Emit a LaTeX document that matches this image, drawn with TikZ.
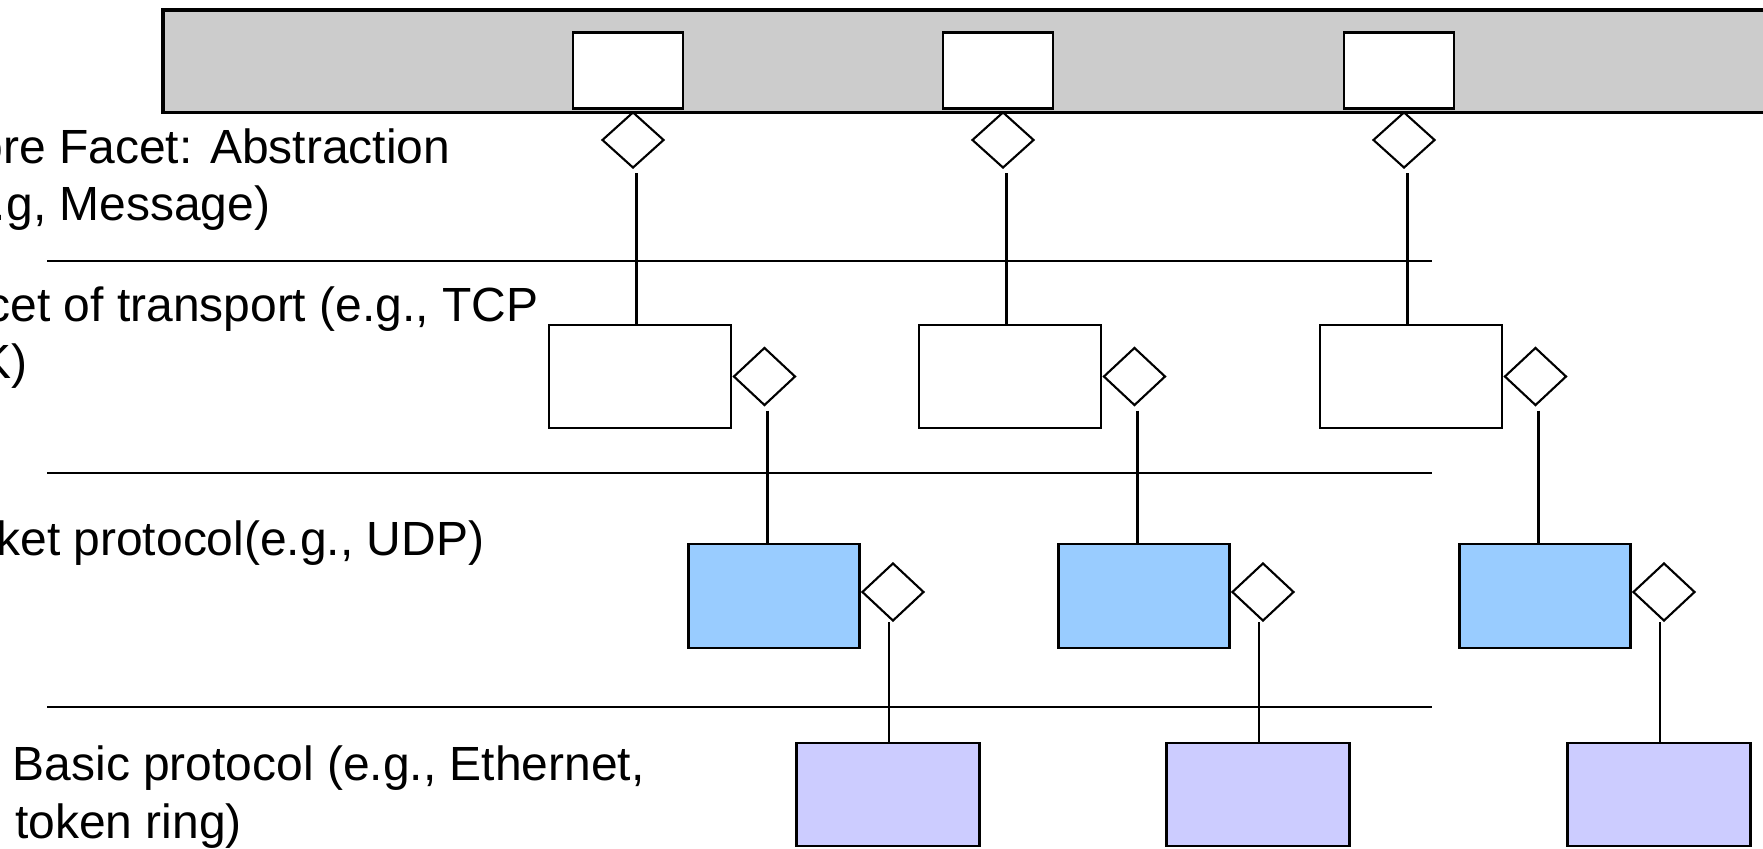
\documentclass[tikz,border=0pt]{standalone}
\usepackage{fontspec}
\setmainfont{Liberation Sans}
\usetikzlibrary{shapes.geometric}
\definecolor{barfill}{HTML}{CCCCCC}
\definecolor{pktblue}{HTML}{99CCFF}
\definecolor{basicfill}{HTML}{CCCCFF}
\begin{document}
\begin{tikzpicture}[x=0.1mm, y=-0.1mm,
        box/.style={draw, line width=0.8pt, inner sep=0, fill=white},
        agg/.style={draw, diamond, line width=0.6pt, fill=white, inner sep=0, minimum width=6.2mm, minimum height=5.8mm},
        link/.style={line width=0.65pt},
        layer/.style={font=\fontsize{13.65}{16}\selectfont, inner sep=0}]
        \useasboundingbox (0,0) rectangle (1763,848);
        \clip (0,0) rectangle (1763,848);
        \draw[fill=barfill, line width=0.9pt] (163,10) rectangle (1800,112.5);
        \foreach \y in {261,473,707} {
            \draw[line width=0.8pt] (47,\y) -- (1432,\y);
        }
        \node[layer, anchor=base east] (core) at (451,163) {ore Facet: Abstraction};
        \node[layer, anchor=base east] (coreb) at (271,220) {.g, Message)};
        \node[layer, anchor=base east] (trans) at (539,321.5) {cet of transport (e.g., TCP};
        \node[layer, anchor=base east] (transb) at (28,378) {K)};
        \node[layer, anchor=base east] (packet) at (485,555) {ket protocol(e.g., UDP)};
        \node[layer, anchor=base west] (basic) at (12,780) {Basic protocol (e.g., Ethernet,};
        \node[layer, anchor=base west] (basicb) at (14.5,838) {token ring)};
        \foreach \x [count=\i] in {628,998,1399} {
            \node[box, minimum width=11mm, minimum height=7.6mm] (msg\i) at (\x,70.5) {};
            \node[agg, minimum height=5.6mm] (dmsg\i) at (\x+5,140) {};
            \node[box, minimum width=18.2mm, minimum height=10.3mm] (fac\i) at (\x+12,376.5) {};
            \node[agg, anchor=west] (dfac\i) at (fac\i.east) {};
            \node[box, fill=pktblue, minimum width=17.1mm, minimum height=10.4mm] (pkt\i) at (\x+146,596) {};
            \node[agg, anchor=west] (dpkt\i) at ([shift={(0,-4)}]pkt\i.east) {};
            \node[box, fill=basicfill, minimum width=18.35mm, minimum height=10.3mm] (bas\i) at (\x+260,794.5) {};
            \draw[link] ([shift={(3.5,4)}]dmsg\i.south) coordinate (a\i) -- (a\i |- fac\i.north);
            \draw[link] ([shift={(3,4)}]dfac\i.south) coordinate (b\i) -- (b\i |- pkt\i.north);
            \draw[link] ([shift={(-4,0)}]dpkt\i.south) coordinate (c\i) -- (c\i |- bas\i.north);
        }
    \end{tikzpicture}
\end{document}
